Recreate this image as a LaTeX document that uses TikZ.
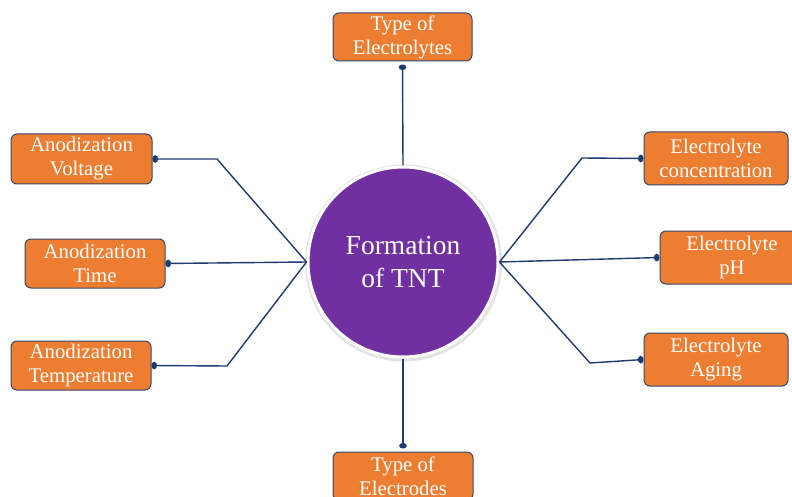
\documentclass[tikz,border=0pt]{standalone}
\usepackage{fontspec}
\setmainfont{Liberation Serif}
\usetikzlibrary{arrows.meta}
\definecolor{boxorange}{HTML}{ED7D31}
\definecolor{boxedge}{HTML}{34496B}
\definecolor{linenavy}{HTML}{1F3A6E}
\definecolor{tntpurple}{HTML}{7030A0}
\begin{document}
\begin{tikzpicture}[x=1pt,y=-1pt,
  factor/.style={draw=boxedge, line width=1pt, fill=boxorange, rounded corners=6pt,
    text=white, align=center, font=\fontsize{20.8}{24}\selectfont, inner sep=0pt},
  conn/.style={draw=linenavy, line width=1.4pt, -{Circle[length=5.5pt,width=7.5pt]}}]
\useasboundingbox (0,0) rectangle (792,497);
\clip (0,0) rectangle (792,497);
% central circle
\fill[gray!22] (403.5,263) circle (98.5pt);
\node[circle, minimum size=190pt, fill=tntpurple, draw=white, line width=3pt,
  text=white, align=center, font=\fontsize{27.5}{33}\selectfont, inner sep=0pt]
  (tnt) at (403,262) {Formation\\of TNT};
% factor boxes
\node[factor, minimum width=139pt, minimum height=48pt] (elyt) at (402.5,37) {Type of\\Electrolytes};
\node[factor, minimum width=140pt, minimum height=48pt] (elec) at (403,476) {Type of\\Electrodes};
\node[factor, minimum width=141pt, minimum height=50pt] (volt) at (81.5,159) {Anodization\\Voltage};
\node[factor, minimum width=140pt, minimum height=49pt] (time) at (95,263.5) {Anodization\\Time};
\node[factor, minimum width=140pt, minimum height=49pt] (temp) at (81,365.5) {Anodization\\Temperature};
\node[factor, minimum width=144pt, minimum height=53pt] (conc) at (716,158.5) {Electrolyte\\concentration};
\node[factor, minimum width=144pt, minimum height=53pt] (ph) at (732,257.5) {Electrolyte\\pH};
\node[factor, minimum width=144pt, minimum height=53pt] (aging) at (716,359.5) {Electrolyte\\Aging};
% bend points
\coordinate (bvolt) at (217,159);
\coordinate (btemp) at (227,366);
\coordinate (bconc) at (582,158);
\coordinate (baging) at (590,363);
% connectors
\draw[conn, shorten >=3pt] (tnt.north) -- (elyt.south);
\draw[conn, shorten >=3pt] (tnt.south) -- (elec.north);
\draw[conn] (tnt.west) -- (bvolt) -- (volt.east);
\draw[conn] (tnt.west) -- (time.east);
\draw[conn] (tnt.west) -- (btemp) -- (temp.east);
\draw[conn] (tnt.east) -- (bconc) -- (conc.west);
\draw[conn] (tnt.east) -- (ph.west);
\draw[conn] (tnt.east) -- (baging) -- (aging.west);
\end{tikzpicture}
\end{document}
